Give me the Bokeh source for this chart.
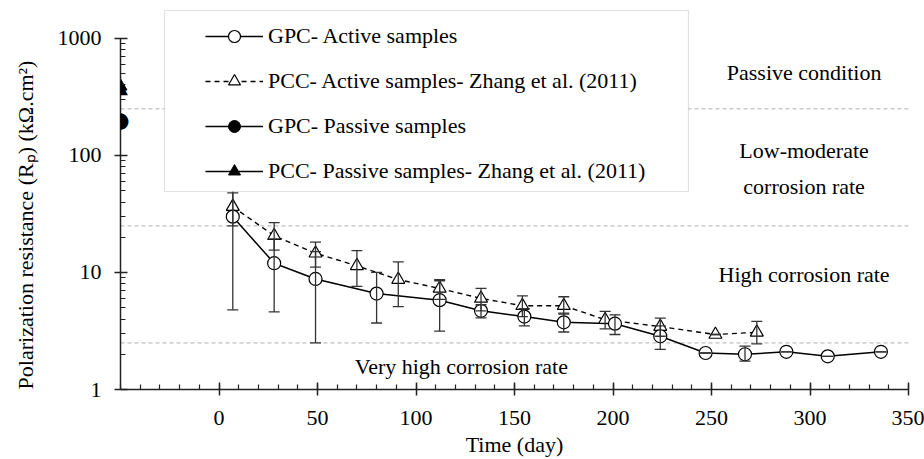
from bokeh.plotting import figure
from bokeh.models import (ColumnDataSource, Whisker, TeeHead, FixedTicker, Legend,
                          LegendItem, Label, BoxAnnotation, Range1d, CustomJSTickFormatter)
from bokeh.embed import file_html
from bokeh.resources import INLINE

# ---- data ----
gpc_day = [7, 28, 49, 80, 112, 133, 155, 175, 201, 224, 247, 267, 288, 309, 336]
gpc_rp = [30, 12, 8.8, 6.6, 5.8, 4.7, 4.2, 3.75, 3.65, 2.85, 2.05, 2.0, 2.1, 1.92, 2.1]
gpc_lo = [4.8, 4.6, 2.5, 3.7, 3.15, 4.1, 3.5, 3.1, 2.95, 2.2, 2.05, 1.75, 2.1, 1.92, 2.1]
gpc_hi = [55, 19.4, 15.1, 10.0, 8.5, 5.3, 4.9, 4.5, 4.35, 3.5, 2.05, 2.35, 2.1, 1.92, 2.1]

pcc_day = [7, 28, 49, 70, 91, 112, 133, 154, 175, 196, 224, 252, 273]
pcc_rp = [36.5, 20.6, 14.6, 11.4, 8.7, 7.3, 6.0, 5.2, 5.2, 3.95, 3.45, 2.95, 3.08]
pcc_lo = [25, 15.5, 11.1, 7.6, 5.1, 5.9, 4.7, 4.2, 4.4, 3.3, 2.85, 2.95, 2.45]
pcc_hi = [47.8, 26.7, 18.2, 15.4, 12.3, 8.7, 7.3, 6.3, 6.2, 4.65, 4.08, 2.95, 3.82]

passive_day = [-50]
gpc_passive = [200]
pcc_passive = [390]

thresholds = [2.5, 25, 250]

x_major = [0, 50, 100, 150, 200, 250, 300, 350]
x_minor = [d for d in range(-50, 351, 10)]
y_major = [1, 10, 100, 1000]
y_minor = [m * 10 ** e for e in range(0, 3) for m in range(2, 10)]

FONT = "Liberation Serif"
FS = "22px"

# frame: bottom at 390px, 1000 at 38px; extend frame up to 5px so the legend box is not clipped
DEC = (390 - 38) / 3.0
TOP = 5
y_end = 1000 * 10 ** ((38 - TOP) / DEC)

p = figure(width=924, height=459, y_axis_type="log",
           x_range=Range1d(-50, 350), y_range=Range1d(1, y_end),
           output_backend="svg", toolbar_location=None,
           min_border_left=120, min_border_right=16, min_border_top=TOP, min_border_bottom=69)
p.outline_line_color = None
p.xgrid.grid_line_color = None
p.ygrid.grid_line_color = None
p.background_fill_color = "white"

# threshold lines
p.segment(x0=[-50] * len(thresholds), x1=[350] * len(thresholds), y0=thresholds, y1=thresholds,
          line_color="#b0b0b0", line_dash="4 3", line_width=1)

gsrc = ColumnDataSource(dict(x=gpc_day, y=gpc_rp, lo=gpc_lo, hi=gpc_hi))
psrc = ColumnDataSource(dict(x=pcc_day, y=pcc_rp, lo=pcc_lo, hi=pcc_hi))

for src in (gsrc, psrc):
    w = Whisker(source=src, base="x", lower="lo", upper="hi", line_color="#333333", line_width=1.3,
                upper_head=TeeHead(size=11, line_color="#333333", line_width=1.3),
                lower_head=TeeHead(size=11, line_color="#333333", line_width=1.3),
                level="glyph")
    p.add_layout(w)

pl = p.line("x", "y", source=psrc, line_color="black", line_width=1.4, line_dash="5 4")
gl = p.line("x", "y", source=gsrc, line_color="black", line_width=1.5)
ps = p.scatter("x", "y", source=psrc, marker="triangle", size=13, fill_color="white",
               line_color="black", line_width=1.2)
gs = p.scatter("x", "y", source=gsrc, marker="circle", size=13, fill_color="white",
               line_color="black", line_width=1.2)
# passive samples (renderers used for the legend; drawn visibly via unclipped labels below)
gpl = p.line(passive_day, gpc_passive, line_color="black", line_width=1.5)
gp = p.scatter(passive_day, gpc_passive, marker="circle", size=13, fill_color="black", line_color="black")
ppl = p.line(passive_day, pcc_passive, line_color="black", line_width=1.5)
pp = p.scatter(passive_day, pcc_passive, marker="triangle", size=13, fill_color="black", line_color="black")
p.add_layout(Label(x=passive_day[0], y=gpc_passive[0], text="●", text_font="DejaVu Sans",
                   text_font_size="21px", text_align="center", text_baseline="middle", text_color="black"))
p.add_layout(Label(x=passive_day[0], y=pcc_passive[0], text="▲", text_font="DejaVu Sans",
                   text_font_size="19px", text_align="center", text_baseline="middle", text_color="black"))

# axes
p.xaxis.ticker = FixedTicker(ticks=x_major, minor_ticks=x_minor)
p.yaxis.ticker = FixedTicker(ticks=y_major, minor_ticks=y_minor)
p.yaxis.formatter = CustomJSTickFormatter(code="return tick.toFixed(0);")
p.yaxis.bounds = (1, 1000)
for ax in (p.xaxis[0], p.yaxis[0]):
    ax.axis_line_color = "#222222"
    ax.axis_line_width = 1.5
    ax.major_tick_line_color = "#222222"
    ax.major_tick_line_width = 1.5
    ax.minor_tick_line_color = "#222222"
    ax.minor_tick_line_width = 1.2
    ax.major_tick_in = 7
    ax.major_tick_out = 6
    ax.minor_tick_in = 5
    ax.minor_tick_out = 0
    ax.major_label_text_font = FONT
    ax.major_label_text_font_size = FS
    ax.major_label_text_color = "black"
    ax.axis_label_text_font = FONT
    ax.axis_label_text_font_size = FS
    ax.axis_label_text_font_style = "normal"
    ax.axis_label_text_color = "black"
p.xaxis.major_label_standoff = 15
p.yaxis.major_label_standoff = 13
p.xaxis.axis_label = "Time (day)"
p.xaxis.axis_label_standoff = 4
# trailing spaces shift the centred title downward, as in the reference
p.yaxis.axis_label = "Polarization resistance (Rₚ) (kΩ.cm²)\u2003\u2003\u2002"
p.yaxis.axis_label_standoff = 17

# region labels
def lab(x, y, t):
    p.add_layout(Label(x=x, y=y, text=t, text_font=FONT, text_font_size=FS,
                       text_align="center", text_baseline="middle", text_color="black"))
lab(297, 514, "Passive condition")
lab(297, 111, "Low-moderate")
lab(297, 54, "corrosion rate")
lab(297, 9.56, "High corrosion rate")
lab(123, 1.57, "Very high corrosion rate")

# legend box (screen units relative to the frame's bottom-left)
box = BoxAnnotation(left=44, right=568, top=379, bottom=198,
                    left_units="screen", right_units="screen", top_units="screen", bottom_units="screen",
                    fill_color="white", fill_alpha=1, line_color="#a0a0a0", line_width=1.2)
p.add_layout(box)

legend = Legend(items=[
    LegendItem(label="GPC- Active samples", renderers=[gl, gs]),
    LegendItem(label="PCC- Active samples- Zhang et al. (2011)", renderers=[pl, ps]),
    LegendItem(label="GPC- Passive samples", renderers=[gpl, gp]),
    LegendItem(label="PCC- Passive samples- Zhang et al. (2011)", renderers=[ppl, pp]),
], location=(85, 203))
legend.border_line_alpha = 0
legend.background_fill_alpha = 0
legend.padding = 0
legend.margin = 0
legend.spacing = 15
legend.glyph_width = 58
legend.glyph_height = 30
legend.label_height = 30
legend.label_standoff = 5
legend.label_text_font = FONT
legend.label_text_font_size = FS
legend.label_text_color = "black"
p.add_layout(legend)

open("out.html", "w").write(file_html(p, INLINE))
